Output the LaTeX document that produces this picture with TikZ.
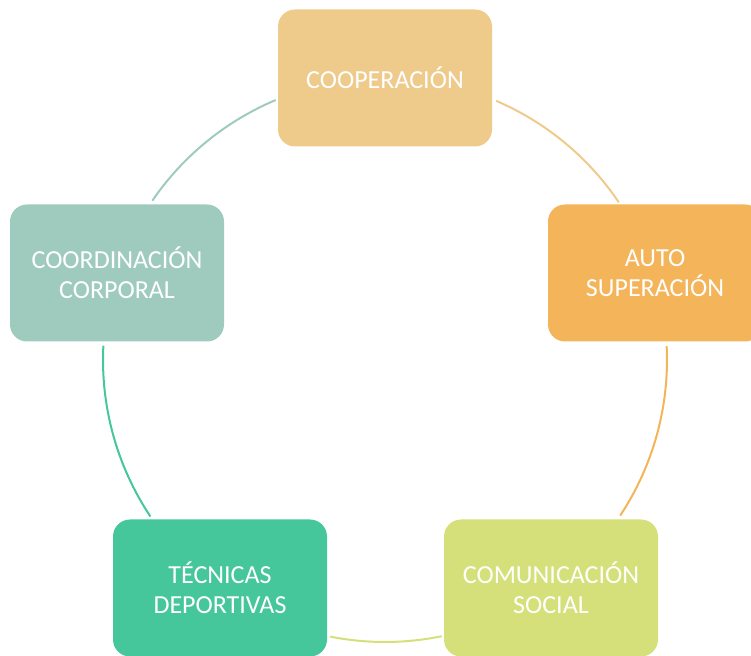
\documentclass[tikz,border=0pt]{standalone}
\usepackage{fontspec}
\setmainfont{Carlito}
\definecolor{coopcol}{HTML}{EECB8B}
\definecolor{autocol}{HTML}{F3B45A}
\definecolor{comucol}{HTML}{D5E07A}
\definecolor{teccol}{HTML}{45C69B}
\definecolor{coordcol}{HTML}{9FCBBF}
\begin{document}
\begin{tikzpicture}[x=1pt,y=1pt,inner sep=0pt,outer sep=0pt,
stage/.style={rectangle,rounded corners=17pt,minimum width=214pt,minimum height=137pt,text=white,align=center,font=\fontsize{26}{30}\selectfont},
ring/.style={line width=2pt}]
\clip (0,0) rectangle (751,655);
\coordinate (ctr) at (385,295);
\draw (385,577) node[stage,fill=coopcol] (coop) {COOPERACIÓN};
\draw (655,382) node[stage,fill=autocol] (auto) {AUTO\\SUPERACIÓN};
\draw (551,67) node[stage,fill=comucol] (comu) {COMUNICACIÓN\\SOCIAL};
\draw (220,67) node[stage,fill=teccol] (tec) {TÉCNICAS\\DEPORTIVAS};
\draw (117,382) node[stage,fill=coordcol] (coord) {COORDINACIÓN\\CORPORAL};
\draw[ring,coopcol] ([shift={(66.8:282)}]ctr) arc[start angle=66.8,end angle=34,radius=282];
\draw[ring,autocol] ([shift={(2.8:282)}]ctr) arc[start angle=2.8,end angle=-33.5,radius=282];
\draw[ring,comucol] ([shift={(-78.4:282)}]ctr) arc[start angle=-78.4,end angle=-101.2,radius=282];
\draw[ring,teccol] ([shift={(213.7:282)}]ctr) arc[start angle=213.7,end angle=177.1,radius=282];
\draw[ring,coordcol] ([shift={(145.6:282)}]ctr) arc[start angle=145.6,end angle=112.8,radius=282];
\end{tikzpicture}
\end{document}
